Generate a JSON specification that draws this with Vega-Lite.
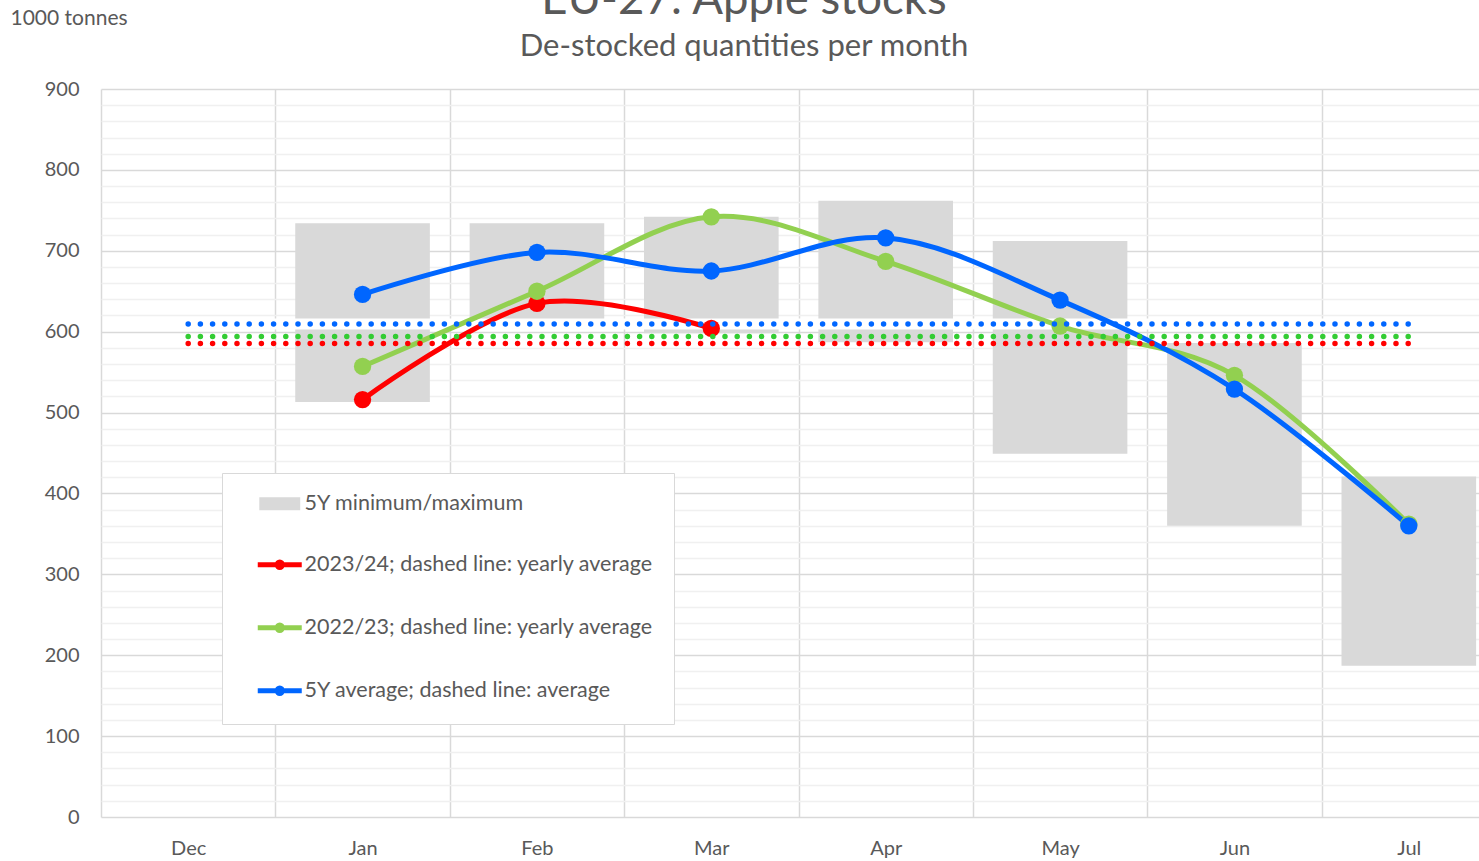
{
  "$schema": "https://vega.github.io/schema/vega-lite/v6.json",
  "autosize": {"type": "none"},
  "padding": {"left": 101, "top": 89, "right": 0, "bottom": 44},
  "width": 1378,
  "height": 728,
  "background": "white",
  "config": {
    "font": "Lato",
    "view": {"stroke": null},
    "axis": {"labelFont": "Lato", "labelColor": "#595959", "labelFontSize": 20, "titleFont": "Lato"}
  },
  "title": {
    "text": "EU-27: Apple stocks",
    "subtitle": "De-stocked quantities per month",
    "anchor": "middle",
    "frame": "group",
    "dx": -46,
    "offset": -55,
    "fontSize": 45.5,
    "fontWeight": "normal",
    "color": "#595959",
    "subtitleFontSize": 31,
    "subtitleColor": "#595959",
    "subtitleFont": "Lato",
    "subtitlePadding": 9
  },
  "datasets": {
    "ranges": [
      {"month": "Jan", "series": "5Y minimum/maximum", "low": 513, "high": 734},
      {"month": "Feb", "series": "5Y minimum/maximum", "low": 608, "high": 734},
      {"month": "Mar", "series": "5Y minimum/maximum", "low": 598, "high": 742},
      {"month": "Apr", "series": "5Y minimum/maximum", "low": 587, "high": 762},
      {"month": "May", "series": "5Y minimum/maximum", "low": 449, "high": 712},
      {"month": "Jun", "series": "5Y minimum/maximum", "low": 360, "high": 586},
      {"month": "Jul", "series": "5Y minimum/maximum", "low": 187, "high": 421}
    ],
    "lines": [
      {"month": "Jan", "series": "2023/24; dashed line: yearly average", "value": 516},
      {"month": "Feb", "series": "2023/24; dashed line: yearly average", "value": 635},
      {"month": "Mar", "series": "2023/24; dashed line: yearly average", "value": 604},
      {"month": "Jan", "series": "2022/23; dashed line: yearly average", "value": 557},
      {"month": "Feb", "series": "2022/23; dashed line: yearly average", "value": 650},
      {"month": "Mar", "series": "2022/23; dashed line: yearly average", "value": 742},
      {"month": "Apr", "series": "2022/23; dashed line: yearly average", "value": 687},
      {"month": "May", "series": "2022/23; dashed line: yearly average", "value": 607},
      {"month": "Jun", "series": "2022/23; dashed line: yearly average", "value": 546},
      {"month": "Jul", "series": "2022/23; dashed line: yearly average", "value": 362},
      {"month": "Jan", "series": "5Y average; dashed line: average", "value": 646},
      {"month": "Feb", "series": "5Y average; dashed line: average", "value": 698},
      {"month": "Mar", "series": "5Y average; dashed line: average", "value": 675},
      {"month": "Apr", "series": "5Y average; dashed line: average", "value": 716},
      {"month": "May", "series": "5Y average; dashed line: average", "value": 639},
      {"month": "Jun", "series": "5Y average; dashed line: average", "value": 529},
      {"month": "Jul", "series": "5Y average; dashed line: average", "value": 360}
    ],
    "averages": [
      {"month": "Dec", "series": "2023/24 yearly average", "value": 585.5},
      {"month": "Jul", "series": "2023/24 yearly average", "value": 585.5},
      {"month": "Dec", "series": "2022/23 yearly average", "value": 594},
      {"month": "Jul", "series": "2022/23 yearly average", "value": 594},
      {"month": "Dec", "series": "5Y average", "value": 609.5},
      {"month": "Jul", "series": "5Y average", "value": 609.5}
    ]
  },
  "encoding": {
    "x": {
      "field": "month",
      "type": "nominal",
      "sort": ["Dec", "Jan", "Feb", "Mar", "Apr", "May", "Jun", "Jul"],
      "scale": {"domain": ["Dec", "Jan", "Feb", "Mar", "Apr", "May", "Jun", "Jul"], "range": [0, 1395], "paddingInner": 0, "paddingOuter": 0},
      "axis": {"title": null, "labelAngle": 0, "tickBand": "extent", "grid": true, "gridColor": "#d9d9d9", "gridWidth": 1.5, "ticks": false, "domain": false, "labelPadding": 21}
    },
    "y": {
      "type": "quantitative",
      "scale": {"domain": [0, 900], "nice": false, "zero": true},
      "axis": {
        "title": "1000 tonnes",
        "titleAngle": 0,
        "titleAlign": "left",
        "titleBaseline": "alphabetic",
        "titleX": -91,
        "titleY": -65,
        "titleFontSize": 21,
        "titleFontWeight": "normal",
        "titleColor": "#595959",
        "values": [0,20,40,60,80,100,120,140,160,180,200,220,240,260,280,300,320,340,360,380,400,420,440,460,480,500,520,540,560,580,600,620,640,660,680,700,720,740,760,780,800,820,840,860,880,900],
        "labelExpr": "datum.value % 100 === 0 ? datum.label : ''",
        "gridColor": {"condition": {"test": "datum.value % 100 === 0", "value": "#d9d9d9"}, "value": "#f0f0f0"},
        "gridWidth": 1.5,
        "ticks": false,
        "domain": false,
        "labelPadding": 22
      }
    }
  },
  "layer": [
    {
      "data": {"name": "ranges"},
      "mark": {"type": "bar", "width": {"band": 0.772}, "opacity": 1},
      "encoding": {
        "y": {"field": "low", "type": "quantitative"},
        "y2": {"field": "high"},
        "color": {
          "field": "series",
          "type": "nominal",
          "scale": {
            "domain": ["5Y minimum/maximum", "2023/24; dashed line: yearly average", "2022/23; dashed line: yearly average", "5Y average; dashed line: average", "2023/24 yearly average", "2022/23 yearly average", "5Y average"],
            "range": ["#d9d9d9", "#ff0000", "#92d050", "#0066ff", "#ff0000", "#33cc33", "#0066ff"]
          },
          "legend": {
            "title": null,
            "orient": "none",
            "legendX": 121,
            "legendY": 384,
            "values": ["5Y minimum/maximum", "2023/24; dashed line: yearly average", "2022/23; dashed line: yearly average", "5Y average; dashed line: average"],
            "fillColor": "white",
            "strokeColor": "#d9d9d9",
            "padding": 20,
            "rowPadding": 37,
            "symbolSize": 1936,
            "symbolOffset": 27,
            "labelOffset": 14,
            "labelFontSize": 21.5,
            "labelFont": "Lato",
            "labelColor": "#595959",
            "labelLimit": 600,
            "symbolType": {"expr": "datum.value === '5Y minimum/maximum' ? 'M-0.93,-0.3L0.93,-0.3L0.93,0.3L-0.93,0.3Z' : 'M-1,0L1,0M-0.12,0A0.12,0.12,0,1,0,0.12,0A0.12,0.12,0,1,0,-0.12,0Z'"},
            "symbolStrokeWidth": {"expr": "datum.value === '5Y minimum/maximum' ? 0 : 5"},
            "symbolFillColor": {"expr": "scale('color', datum.value)"},
            "symbolStrokeColor": {"expr": "scale('color', datum.value)"},
            "symbolOpacity": 1
          }
        }
      }
    },
    {
      "data": {"name": "averages"},
      "transform": [{"filter": "datum.series === '5Y average'"}],
      "mark": {"type": "line", "color": "white", "strokeWidth": 11},
      "encoding": {"y": {"field": "value", "type": "quantitative"}}
    },
    {
      "data": {"name": "lines"},
      "mark": {"type": "line", "interpolate": "cardinal", "tension": 0, "strokeWidth": 5, "strokeCap": "round"},
      "encoding": {
        "y": {"field": "value", "type": "quantitative"},
        "color": {"field": "series", "type": "nominal"}
      }
    },
    {
      "data": {"name": "lines"},
      "mark": {"type": "circle", "size": 300, "opacity": 1},
      "encoding": {
        "y": {"field": "value", "type": "quantitative"},
        "color": {"field": "series", "type": "nominal"}
      }
    },
    {
      "data": {"name": "averages"},
      "mark": {"type": "line", "strokeWidth": 5.5, "strokeDash": [0, 12.2], "strokeCap": "round"},
      "encoding": {
        "y": {"field": "value", "type": "quantitative"},
        "color": {"field": "series", "type": "nominal"}
      }
    }
  ]
}
